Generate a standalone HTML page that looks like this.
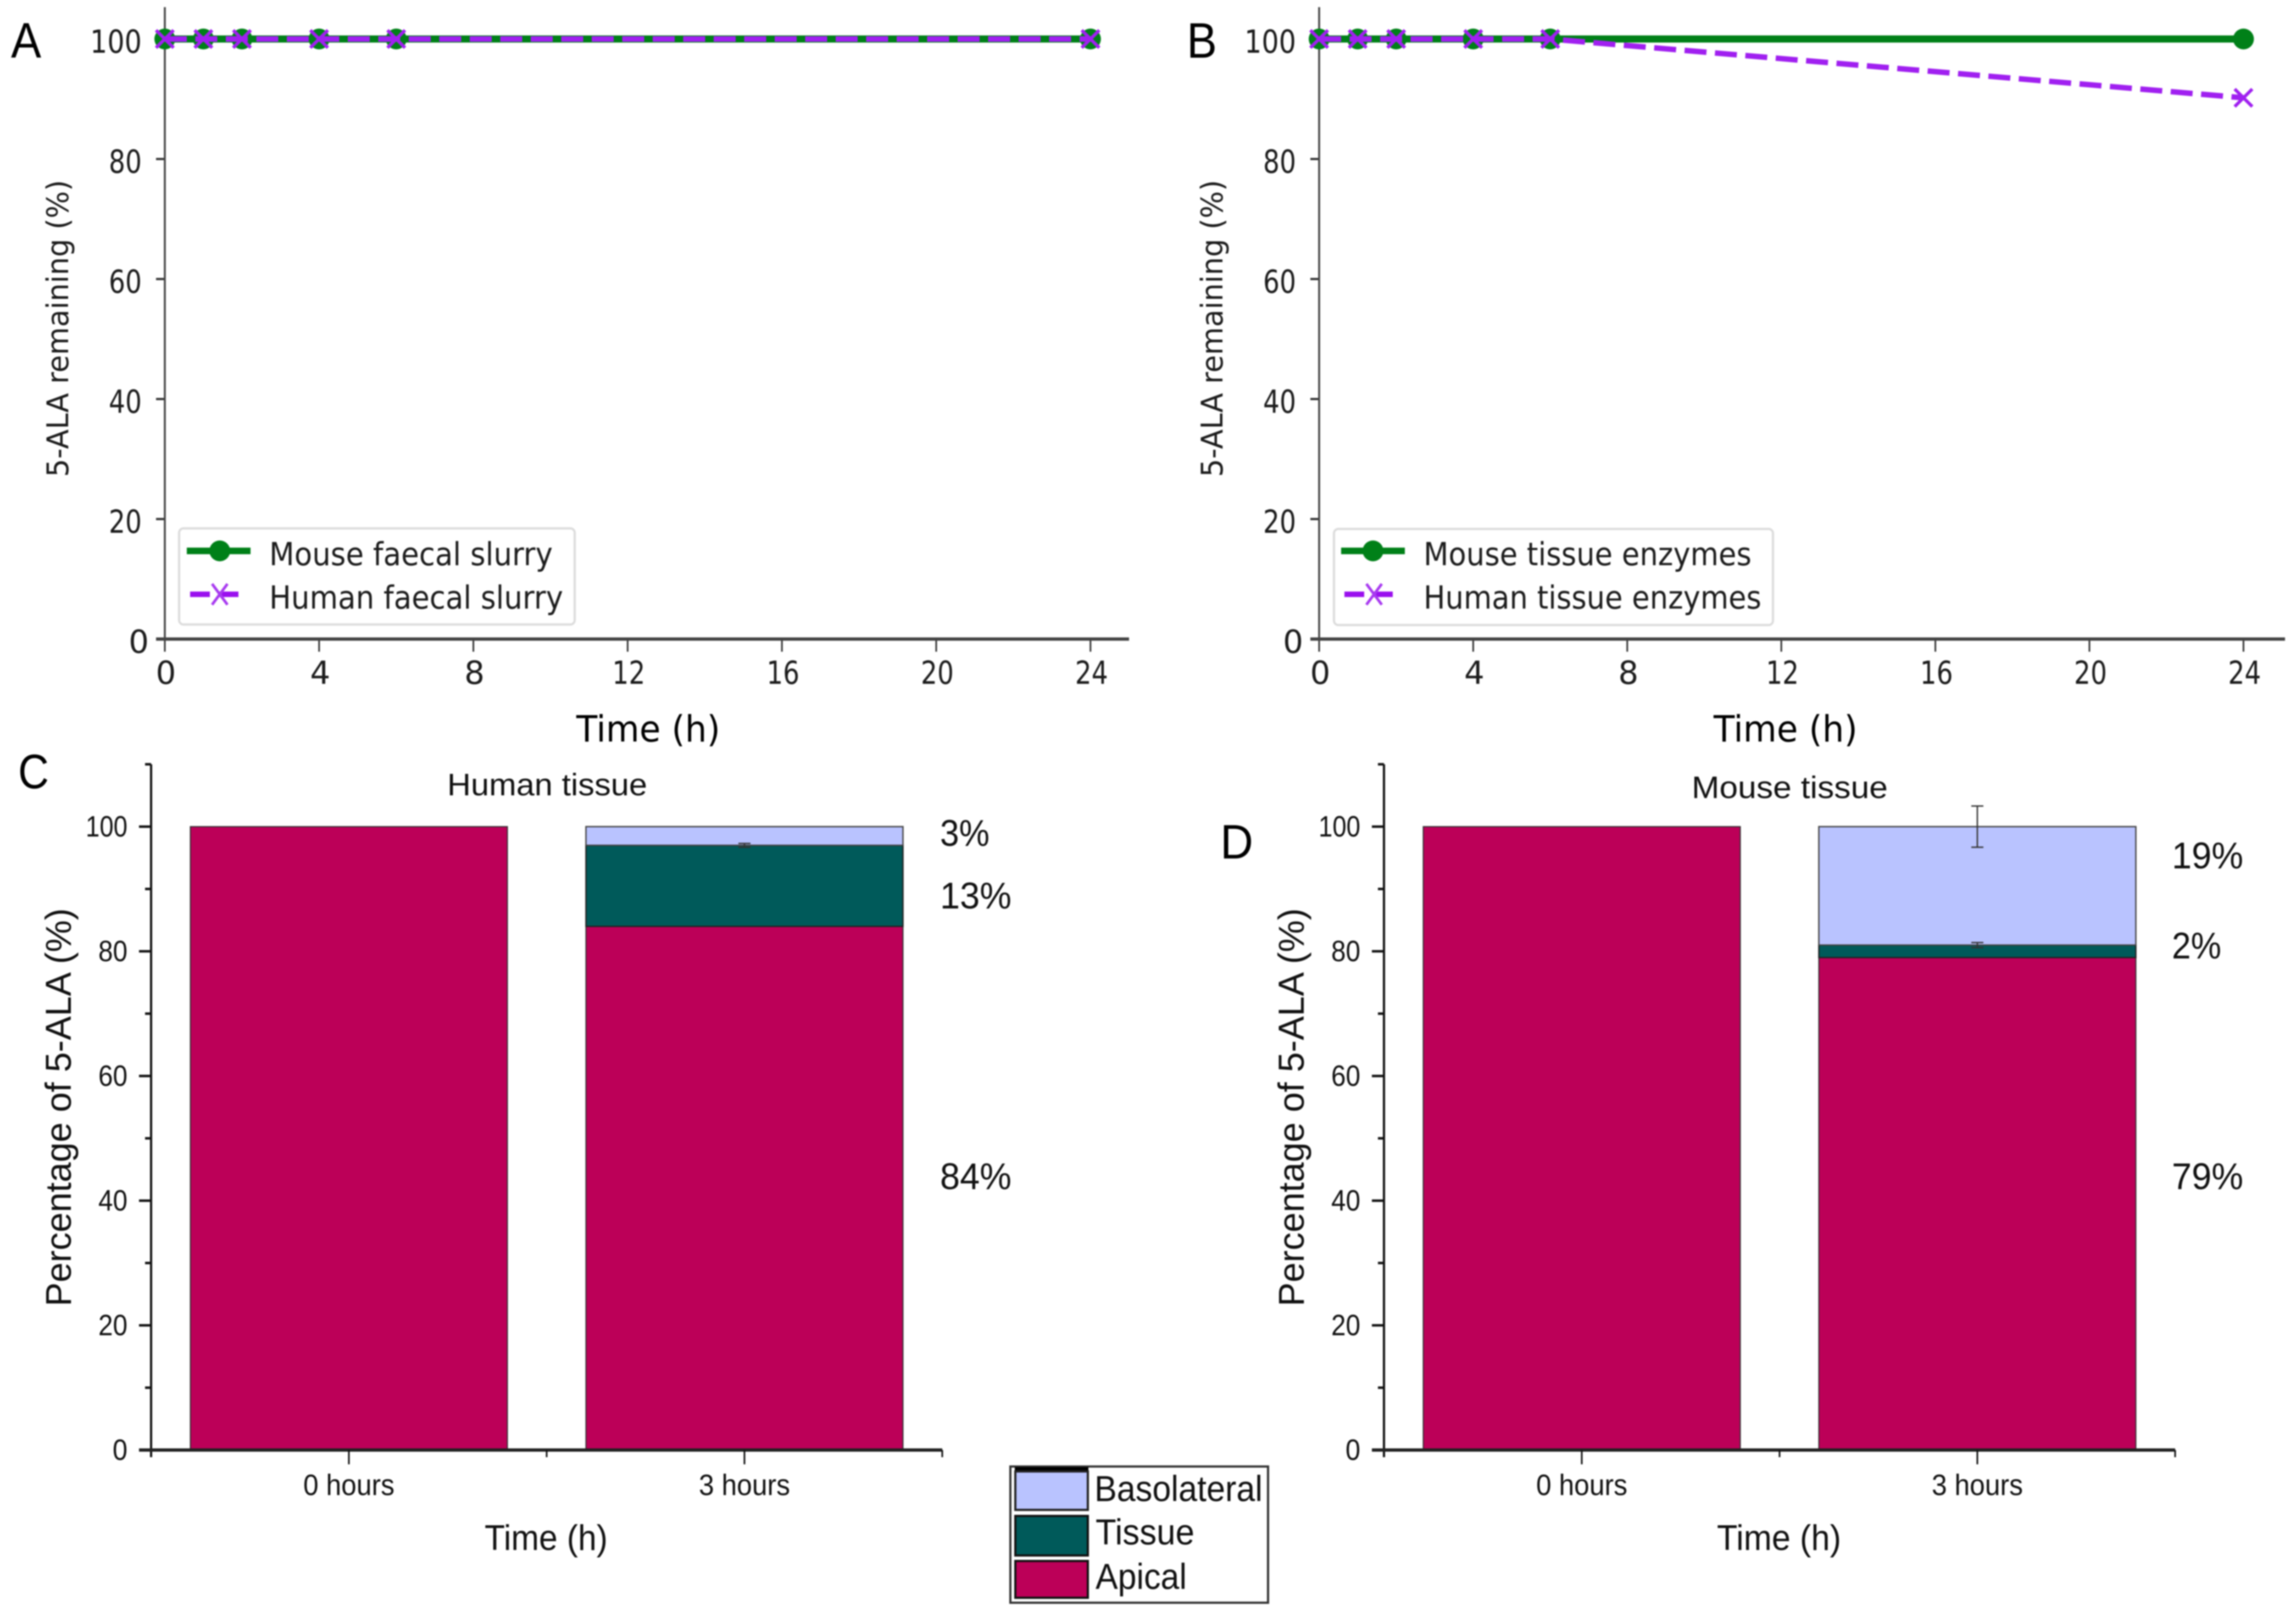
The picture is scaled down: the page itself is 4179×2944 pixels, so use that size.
<!DOCTYPE html>
<html lang="en">
<head>
<meta charset="utf-8">
<title>5-ALA stability and transport</title>
<style>
html,body{margin:0;padding:0;background:#fff;}
svg{display:block;filter:blur(1.2px);}
.dv{font-family:"DejaVu Sans",sans-serif;fill:#1c1c1c;}
.ls{font-family:"Liberation Sans",sans-serif;fill:#111;}
</style>
</head>
<body>
<svg id="figure" xmlns="http://www.w3.org/2000/svg" width="4179" height="2944" viewBox="0 0 4179 2944">
<rect x="0" y="0" width="4179" height="2944" fill="#fff"/>

<g id="panel-a"></g>
<g id="panel-b"></g>
<g id="panel-c"></g>
<g id="panel-d"></g>

<!-- panel letters -->
<text class="ls" x="20" y="105" font-size="91" textLength="55" lengthAdjust="spacingAndGlyphs" style="fill:#000">A</text>
<text class="ls" x="2160" y="105" font-size="91" textLength="55" lengthAdjust="spacingAndGlyphs" style="fill:#000">B</text>
<text class="ls" x="33" y="1435" font-size="88" textLength="56" lengthAdjust="spacingAndGlyphs" style="fill:#000">C</text>
<text class="ls" x="2221" y="1563" font-size="88" textLength="60" lengthAdjust="spacingAndGlyphs" style="fill:#000">D</text>

<!-- axis titles, panels A and B -->
<text class="dv" x="124" y="598" font-size="54" text-anchor="middle" textLength="541" lengthAdjust="spacingAndGlyphs" transform="rotate(-90 124 598)">5-ALA remaining (%)</text>
<text class="dv" x="2225" y="598" font-size="54" text-anchor="middle" textLength="541" lengthAdjust="spacingAndGlyphs" transform="rotate(-90 2225 598)">5-ALA remaining (%)</text>
<text class="dv" x="1180" y="1350" font-size="66" text-anchor="middle" textLength="262" lengthAdjust="spacingAndGlyphs" style="fill:#000">Time (h)</text>
<text class="dv" x="3250" y="1350" font-size="66" text-anchor="middle" textLength="262" lengthAdjust="spacingAndGlyphs" style="fill:#000">Time (h)</text>

<!-- axis titles, panels C and D -->
<text class="ls" x="129" y="2016" font-size="66" text-anchor="middle" textLength="725" lengthAdjust="spacingAndGlyphs" transform="rotate(-90 129 2016)">Percentage of 5-ALA (%)</text>
<text class="ls" x="2373" y="2016" font-size="66" text-anchor="middle" textLength="725" lengthAdjust="spacingAndGlyphs" transform="rotate(-90 2373 2016)">Percentage of 5-ALA (%)</text>
<text class="ls" x="994" y="2822" font-size="65" text-anchor="middle" textLength="224" lengthAdjust="spacingAndGlyphs">Time (h)</text>
<text class="ls" x="3238" y="2822" font-size="65" text-anchor="middle" textLength="226" lengthAdjust="spacingAndGlyphs">Time (h)</text>
<text class="ls" x="814" y="1448" font-size="57" textLength="364" lengthAdjust="spacingAndGlyphs">Human tissue</text>
<text class="ls" x="3079" y="1453" font-size="57" textLength="357" lengthAdjust="spacingAndGlyphs">Mouse tissue</text>

<!-- legend A -->
<g>
  <rect x="326" y="962" width="720" height="175" rx="8" fill="#fff" stroke="#dcdcdc" stroke-width="4"/>
  <g>
    <line x1="340" y1="1003" x2="456" y2="1003" stroke="#008018" stroke-width="12"/>
    <circle cx="400" cy="1003" r="19" fill="#008018"/>
    <text class="dv" x="490" y="1029" font-size="58" textLength="516" lengthAdjust="spacingAndGlyphs">Mouse faecal slurry</text>
  </g>
  <g>
    <line x1="346" y1="1082" x2="440" y2="1082" stroke="#9a10ee" stroke-width="10" stroke-dasharray="36 16"/>
    <path d="M386 1063L414 1101M414 1063L386 1101" stroke="#a83af0" stroke-width="5" fill="none"/>
    <text class="dv" x="490" y="1108" font-size="58" textLength="535" lengthAdjust="spacingAndGlyphs">Human faecal slurry</text>
  </g>
</g>

<!-- legend B -->
<g>
  <rect x="2428" y="963" width="799" height="175" rx="8" fill="#fff" stroke="#dcdcdc" stroke-width="4"/>
  <g>
    <line x1="2441" y1="1003" x2="2557" y2="1003" stroke="#008018" stroke-width="12"/>
    <circle cx="2499" cy="1003" r="19" fill="#008018"/>
    <text class="dv" x="2591" y="1029" font-size="58" textLength="597" lengthAdjust="spacingAndGlyphs">Mouse tissue enzymes</text>
  </g>
  <g>
    <line x1="2447" y1="1082" x2="2541" y2="1082" stroke="#9a10ee" stroke-width="10" stroke-dasharray="36 16"/>
    <path d="M2487 1063L2515 1101M2515 1063L2487 1101" stroke="#a83af0" stroke-width="5" fill="none"/>
    <text class="dv" x="2591" y="1108" font-size="58" textLength="615" lengthAdjust="spacingAndGlyphs">Human tissue enzymes</text>
  </g>
</g>

<!-- stacked-bar legend -->
<g>
  <rect x="1839" y="2670" width="469" height="248" fill="#fff" stroke="#333" stroke-width="4"/>
  <rect x="1847" y="2671" width="134" height="8" fill="#000"/>
  <rect x="1848" y="2679" width="132" height="70" fill="#b9c3ff" stroke="#222" stroke-width="4"/>
  <rect x="1848" y="2760" width="132" height="72" fill="#005a5a" stroke="#111" stroke-width="4"/>
  <rect x="1848" y="2842" width="132" height="67" fill="#bc0058" stroke="#111" stroke-width="4"/>
  <text class="ls" x="1992" y="2733" font-size="66" textLength="306" lengthAdjust="spacingAndGlyphs">Basolateral</text>
  <text class="ls" x="1994" y="2812" font-size="66" textLength="180" lengthAdjust="spacingAndGlyphs">Tissue</text>
  <text class="ls" x="1994" y="2893" font-size="66" textLength="166" lengthAdjust="spacingAndGlyphs">Apical</text>
</g>
</svg>

<script>
// ---- line chart data (panels A and B) ----
const timeHours = [0, 1, 2, 4, 6, 24];
const faecalMouse = [100, 100, 100, 100, 100, 100];
const faecalHuman = [100, 100, 100, 100, 100, 100];
const enzymeMouse = [100, 100, 100, 100, 100, 100];
const enzymeHuman = [100, 100, 100, 100, 100, 90.2];
const lineXTicks = [0, 4, 8, 12, 16, 20, 24];
const lineYTicks = [0, 20, 40, 60, 80, 100];

// ---- stacked bar data (panels C and D) ----
const barCategories = ['0 hours', '3 hours'];
const barYTicks = [0, 20, 40, 60, 80, 100];
const barYMinorTicks = [10, 30, 50, 70, 90, 110];
const humanApical = [100, 84];
const humanTissue = [0, 13];
const humanBasolateral = [0, 3];
const humanTissueError = [0, 0.3];
const humanBasolateralError = [0, 0];
const mouseApical = [100, 79];
const mouseTissue = [0, 2];
const mouseBasolateral = [0, 19];
const mouseTissueError = [0, 0.4];
const mouseBasolateralError = [0, 3.3];

const SVGNS = 'http://www.w3.org/2000/svg';

function add(parent, tag, attrs) {
  const el = document.createElementNS(SVGNS, tag);
  for (const k in attrs) el.setAttribute(k, attrs[k]);
  parent.appendChild(el);
  return el;
}

function drawLinePanel(id, left, xUnit, xEnd, mouse, human) {
  const g = document.getElementById(id);
  const y0 = 1163.5, yUnit = 10.925, top = 13;
  const sx = h => left + h * xUnit;
  const sy = v => y0 - v * yUnit;
  let el;

  lineYTicks.forEach(v => {
    el = add(g, 'line', {x1: left - 16, y1: sy(v), x2: left, y2: sy(v), stroke: '#333', 'stroke-width': 4});
    
    
    const s = String(v);
    const attrs = {class: 'dv', y: sy(v) + 25, 'font-size': 58, 'text-anchor': 'end'};
    if (s.length === 1) {
      attrs.x = left - 29;
    } else {
      attrs.x = left - 42;
      attrs.textLength = s.length === 3 ? 94 : 60;
      attrs.lengthAdjust = 'spacingAndGlyphs';
    }
    el = add(g, 'text', attrs);
    el.textContent = s;
    
    
  });

  lineXTicks.forEach(v => {
    el = add(g, 'line', {x1: sx(v), y1: y0, x2: sx(v), y2: y0 + 23, stroke: '#333', 'stroke-width': 3});
    
    
    const s = String(v);
    const attrs = {class: 'dv', x: sx(v) + 2, y: 1245, 'font-size': 58, 'text-anchor': 'middle'};
    if (s.length > 1) {
      attrs.textLength = 60;
      attrs.lengthAdjust = 'spacingAndGlyphs';
    }
    el = add(g, 'text', attrs);
    el.textContent = s;
    
    
  });

  el = add(g, 'line', {x1: left, y1: top, x2: left, y2: y0 + 3, stroke: '#444', 'stroke-width': 3.5});
  
  
  el = add(g, 'line', {x1: left - 16, y1: y0, x2: xEnd, y2: y0, stroke: '#444', 'stroke-width': 6});
  
  

  const ptsMouse = timeHours.map((t, i) => sx(t) + ',' + sy(mouse[i])).join(' ');
  const ptsHuman = timeHours.map((t, i) => sx(t) + ',' + sy(human[i])).join(' ');

  el = add(g, 'polyline', {points: ptsMouse, fill: 'none', stroke: '#008018', 'stroke-width': 13});
  
  
  timeHours.forEach((t, i) => {
    el = add(g, 'circle', {cx: sx(t), cy: sy(mouse[i]), r: 19, fill: '#008018'});
    
    
  });

  el = add(g, 'polyline', {points: ptsHuman, fill: 'none', stroke: '#a020f0', 'stroke-width': 10, 'stroke-dasharray': '40 15.5'});
  
  
  timeHours.forEach((t, i) => {
    const x = sx(t), y = sy(human[i]), r = 16;
    el = add(g, 'path', {d: 'M' + (x - r) + ' ' + (y - r) + 'L' + (x + r) + ' ' + (y + r) + 'M' + (x + r) + ' ' + (y - r) + 'L' + (x - r) + ' ' + (y + r), fill: 'none', stroke: '#a020f0', 'stroke-width': 6});
    
    
  });
}

function drawBarPanel(id, left, apical, tissue, baso, tissueErr, basoErr, labelBaselines, labelX) {
  const g = document.getElementById(id);
  const y0 = 2640, yUnit = 11.35, band = 720, barWidth = 577;
  const sy = v => y0 - v * yUnit;
  const cx = i => left + band * (i + 0.5);
  const axisColor = '#111';
  let el;

  // stacked bars from the value arrays
  barCategories.forEach((c, i) => {
    const a = apical[i], t = tissue[i], b = baso[i];
    const x = cx(i) - barWidth / 2;
    el = add(g, 'rect', {x: x, y: sy(a), width: barWidth, height: a * yUnit, fill: '#bc0058', stroke: '#333', 'stroke-width': 2});
    
    
    if (t > 0) {
      el = add(g, 'rect', {x: x, y: sy(a + t), width: barWidth, height: t * yUnit, fill: '#005a5a', stroke: '#222', 'stroke-width': 2.5});
      
      
    }
    if (b > 0) {
      el = add(g, 'rect', {x: x, y: sy(a + t + b), width: barWidth, height: b * yUnit, fill: '#b9c3ff', stroke: '#444', 'stroke-width': 2.5});
      
      
    }
    [[a + t, tissueErr[i]], [a + t + b, basoErr[i]]].forEach(pair => {
      const center = pair[0], err = pair[1];
      if (err <= 0) return;
      const px = cx(i), half = 11;
      const d = 'M' + px + ' ' + sy(center + err) + 'V' + sy(center - err) +
                'M' + (px - half) + ' ' + sy(center + err) + 'H' + (px + half) +
                'M' + (px - half) + ' ' + sy(center - err) + 'H' + (px + half);
      el = add(g, 'path', {d: d, fill: 'none', stroke: '#333', 'stroke-width': 2.5});
      
      
    });
  });

  // value annotations beside the 3 hour bar
  const lastIndex = barCategories.length - 1;
  [baso[lastIndex], tissue[lastIndex], apical[lastIndex]].forEach((v, i) => {
    el = add(g, 'text', {class: 'ls', x: labelX, y: labelBaselines[i], 'font-size': 68, textLength: (v >= 10 ? 130 : 90), lengthAdjust: 'spacingAndGlyphs'});
    el.textContent = v + '%';
    
    
  });

  // y axis
  el = add(g, 'line', {x1: left, y1: sy(110), x2: left, y2: y0 + 13, stroke: axisColor, 'stroke-width': 4});
  
  
  barYTicks.forEach(v => {
    el = add(g, 'line', {x1: left - 22, y1: sy(v), x2: left, y2: sy(v), stroke: axisColor, 'stroke-width': 4.5});
    
    
    const s = String(v);
    el = add(g, 'text', {class: 'ls', x: left - 43, y: sy(v) + 18, 'font-size': 54, 'text-anchor': 'end', textLength: s.length === 3 ? 76 : (s.length === 2 ? 53 : 27), lengthAdjust: 'spacingAndGlyphs'});
    el.textContent = s;
    
    
  });
  barYMinorTicks.forEach(v => {
    el = add(g, 'line', {x1: left - 11, y1: sy(v), x2: left, y2: sy(v), stroke: axisColor, 'stroke-width': 4.5});
    
    
  });

  // x axis
  el = add(g, 'line', {x1: left - 22, y1: y0, x2: left + band * barCategories.length, y2: y0, stroke: '#222', 'stroke-width': 6});
  
  
  barCategories.forEach((c, i) => {
    el = add(g, 'line', {x1: cx(i), y1: y0, x2: cx(i), y2: y0 + 26, stroke: axisColor, 'stroke-width': 3});
    
    
    el = add(g, 'line', {x1: left + band * (i + 1), y1: y0, x2: left + band * (i + 1), y2: y0 + 13, stroke: axisColor, 'stroke-width': 3});
    
    
    el = add(g, 'text', {class: 'ls', x: cx(i), y: 2722, 'font-size': 54, 'text-anchor': 'middle', textLength: 166, lengthAdjust: 'spacingAndGlyphs'});
    el.textContent = c;
    
    
  });
}

drawLinePanel('panel-a', 300, 70.2, 2055, faecalMouse, faecalHuman);
drawLinePanel('panel-b', 2401, 70.1, 4159, enzymeMouse, enzymeHuman);
drawBarPanel('panel-c', 275, humanApical, humanTissue, humanBasolateral, humanTissueError, humanBasolateralError, [1540, 1654, 2165], 1711);
drawBarPanel('panel-d', 2519, mouseApical, mouseTissue, mouseBasolateral, mouseTissueError, mouseBasolateralError, [1581, 1745, 2165], 3953);
</script>
</body>
</html>
